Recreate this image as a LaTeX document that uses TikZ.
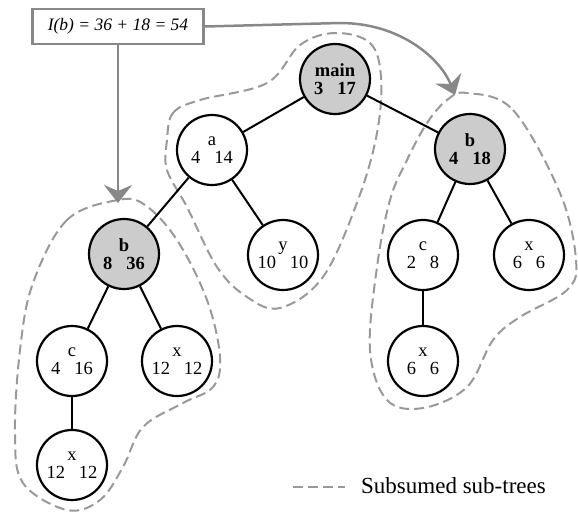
\documentclass[tikz,border=0pt]{standalone}
\usepackage{fontspec}
\setmainfont{Liberation Serif}
\usetikzlibrary{arrows.meta}
\definecolor{nodegray}{HTML}{CCCCCC}
\definecolor{lgray}{HTML}{999999}
\definecolor{agray}{HTML}{888888}
\newcommand{\gapnum}{\hspace{0.75em}}
\begin{document}
\begin{tikzpicture}[x=1pt,y=-1pt,
  tnode/.style={circle,draw=black,line width=2.2pt,minimum size=70pt,inner sep=0pt,align=center,font=\fontsize{18.5}{18}\selectfont},
  hot/.style={tnode,fill=nodegray,font=\fontsize{18.5}{18}\selectfont\bfseries},
  edge/.style={line width=2pt,black},
  outline/.style={draw=lgray,line width=2pt,dash pattern=on 10pt off 5pt},
  pointer/.style={draw=agray,line width=2.5pt,-{Stealth[length=18pt,width=28pt,inset=6pt]}},
  formula/.style={draw=agray,line width=2.5pt,fill=white,minimum width=171pt,minimum height=35pt,inner sep=0pt,font=\fontsize{17.5}{18}\selectfont\itshape}
]
\useasboundingbox (0,0) rectangle (578,512);

% subsumed outlines
\draw[outline] plot[smooth cycle,tension=0.6] coordinates {
  (167,140) (173,113) (200,100) (267,83) (300,45) (335,33) (370,43) (381,77)
  (377,133) (358,200) (323,277) (280,308) (247,297) (217,267) (187,207) (167,170)};
\draw[outline] plot[smooth cycle,tension=0.6] coordinates {
  (118,200) (67,220) (33,283) (20,350) (15,433) (23,483) (67,510) (100,500)
  (123,467) (143,427) (183,403) (213,387) (220,357) (207,300) (177,240) (145,205)};
\draw[outline] plot[smooth cycle,tension=0.6] coordinates {
  (467,93) (513,110) (560,193) (576,260) (567,290) (520,317) (493,340) (467,387)
  (423,408) (387,400) (370,350) (377,267) (390,200) (407,160) (427,123) (447,100)};

% nodes
\node[hot]   (main) at (335,79)  {main\\3\gapnum17};
\node[tnode] (a)    at (212,150) {a\\4\gapnum14};
\node[hot]   (bR)   at (470,149) {b\\4\gapnum18};
\node[hot]   (bL)   at (124,254) {b\\8\gapnum36};
\node[tnode] (y)    at (283,255) {y\\10\gapnum10};
\node[tnode] (cL)   at (72,361)  {c\\4\gapnum16};
\node[tnode] (xL)   at (177,361) {x\\12\gapnum12};
\node[tnode] (xLL)  at (72,465)  {x\\12\gapnum12};
\node[tnode] (cR)   at (423,255) {c\\2\gapnum8};
\node[tnode] (xR)   at (529,255) {x\\6\gapnum6};
\node[tnode] (xRR)  at (423,361) {x\\6\gapnum6};

% edges
\draw[edge] (main) -- (a);
\draw[edge] (main) -- (bR);
\draw[edge] (a) -- (bL);
\draw[edge] (a) -- (y);
\draw[edge] (bL) -- (cL);
\draw[edge] (bL) -- (xL);
\draw[edge] (cL) -- (xLL);
\draw[edge] (bR) -- (cR);
\draw[edge] (bR) -- (xR);
\draw[edge] (cR) -- (xRR);

% formula box and pointers
\node[formula] (f) at (118,26.5) {I(b) = 36 + 18 = 54};
\coordinate (tipL) at (118,203);
\coordinate (tipR) at (455,95);
\draw[pointer] (f.south) -- (tipL);
\draw[pointer] (f.east) -- (340,23) .. controls (400,23) and (440,58) .. (tipR);

% legend
\coordinate (legA) at (293,487);
\coordinate (legB) at (345,487);
\draw[outline] (legA) -- (legB);
\node[anchor=west,inner sep=0pt,font=\fontsize{23}{24}\selectfont] (leg) at (361,486) {Subsumed sub-trees};
\end{tikzpicture}
\end{document}
